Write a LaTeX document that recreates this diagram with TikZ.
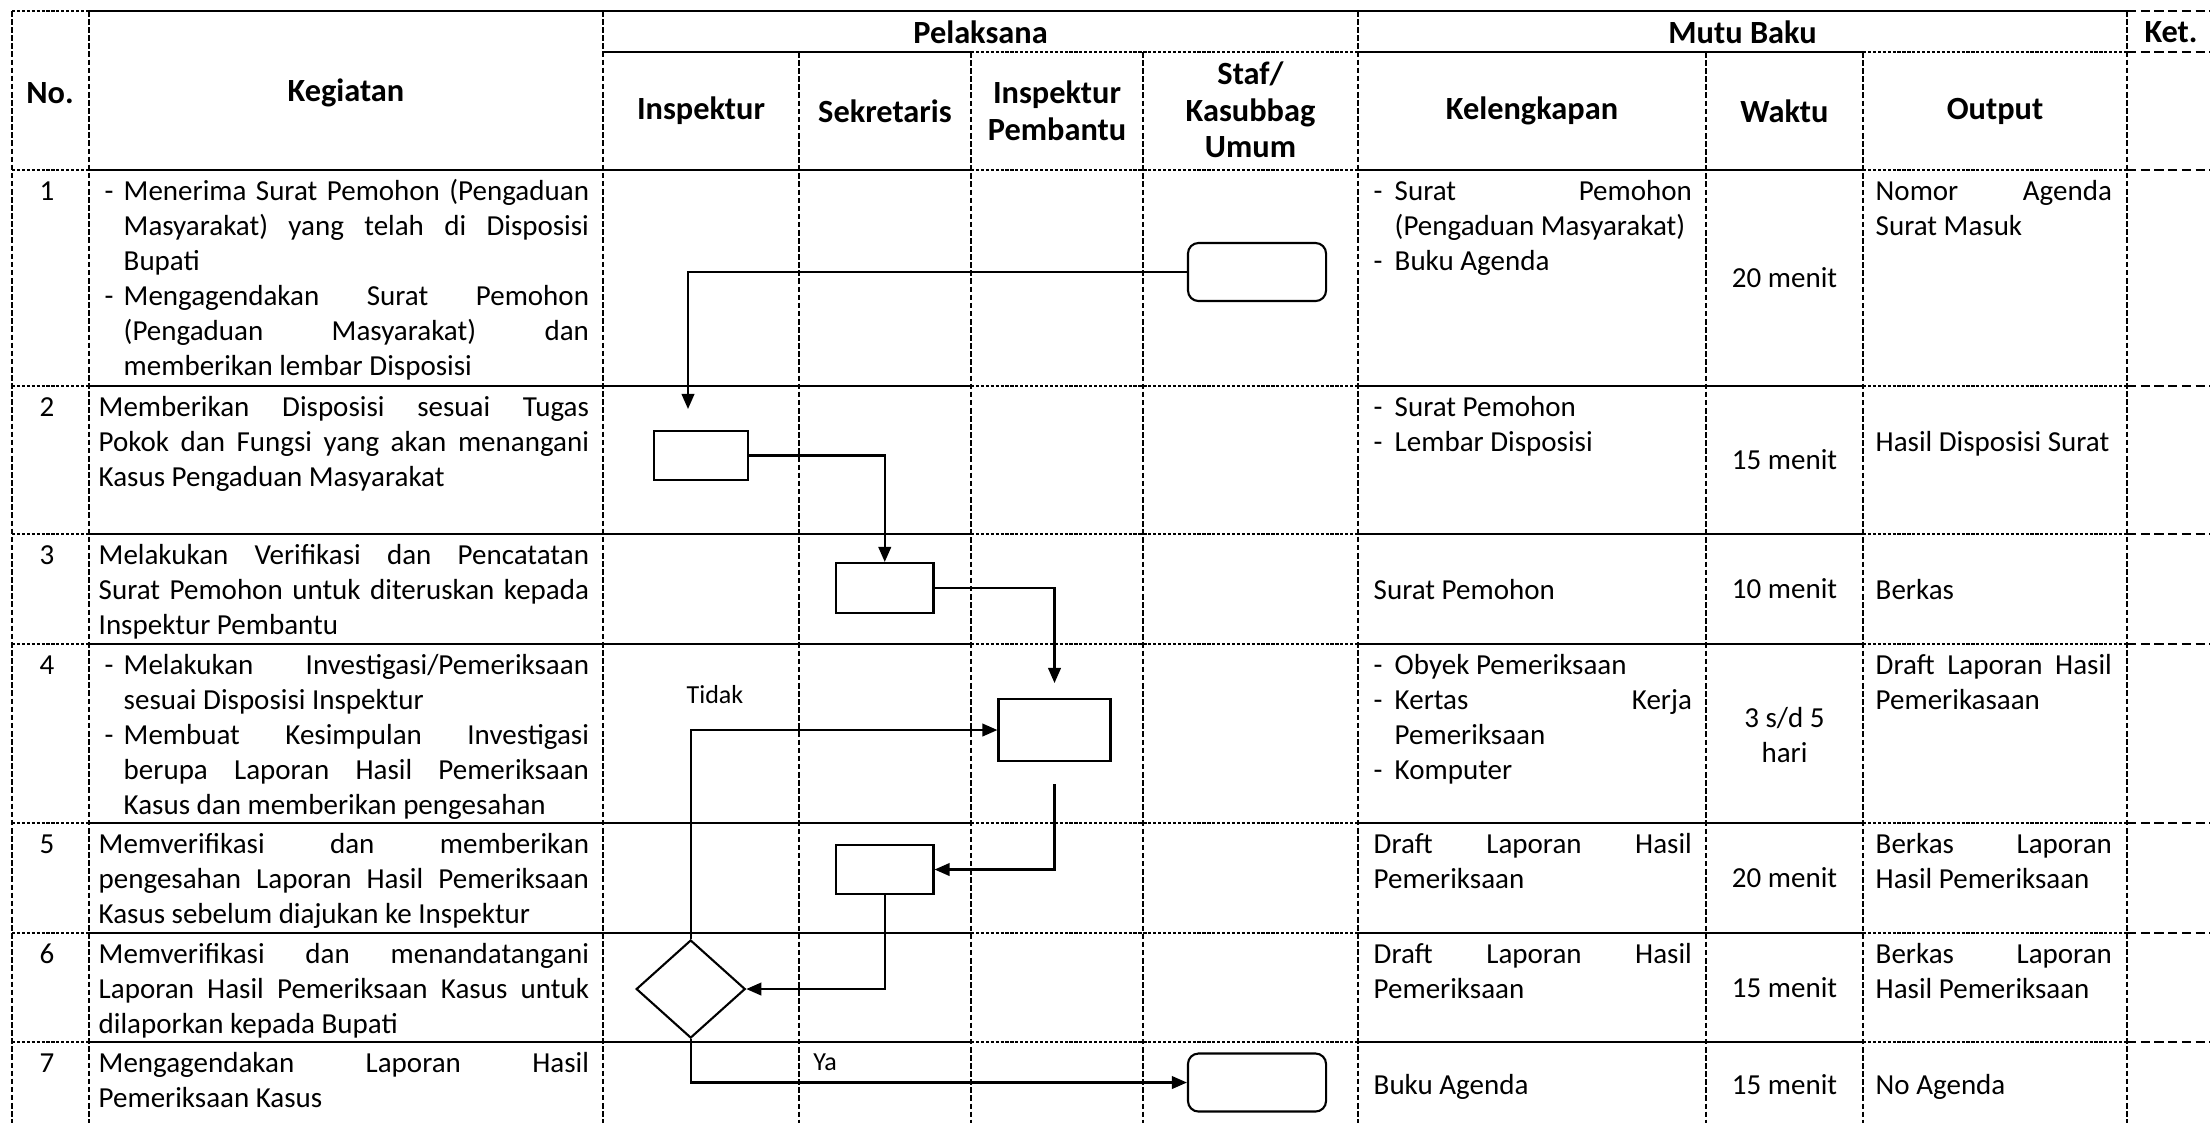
\documentclass[tikz,border=0pt]{standalone}
\usepackage{fontspec}
\setmainfont{Carlito}
\usetikzlibrary{arrows.meta,positioning,shapes.geometric}

\hyphenpenalty=10000
\exhyphenpenalty=10000
\tolerance=10000

% butir berstrip: indentasi strip, indentasi teks (akhiri tiap butir dengan \par)
\newcommand{\butir}[2]{\noindent\hangindent=#2\hangafter=1\hspace*{#1}\makebox[\dimexpr#2-#1\relax][l]{-}\ignorespaces}
\newcommand{\bkeg}{\butir{0.06cm}{0.25cm}}
\newcommand{\bkel}{\butir{0cm}{0.21cm}}

\begin{document}
\begin{tikzpicture}[
    x=0.01cm, y=-0.01cm,
    tebal/.style={line width=0.75pt},
    titik/.style={line width=0.55pt, dash pattern=on 0.9pt off 0.5pt},
    putus/.style={line width=0.6pt, dash pattern=on 2.6pt off 1.3pt},
    tegak/.style={line width=0.4pt, dash pattern=on 1.6pt off 0.7pt},
    judul/.style={font=\fontsize{9.2}{10.4}\selectfont\bfseries, align=center, inner sep=0pt},
    isi/.style={font=\fontsize{8.25}{9.96}\selectfont, inner sep=0pt},
    kegiatan/.style={isi, anchor=base west, text width=4.9cm, align=justify},
    lengkap/.style={isi, anchor=base west, text width=3.18cm, align=justify},
    hasil/.style={isi, anchor=base west, text width=2.36cm, align=justify},
    waktu/.style={isi, align=center},
    proses/.style={rectangle, draw, fill=white, line width=0.6pt, inner sep=0pt},
    terminal/.style={proses, rounded corners=3pt, minimum width=1.38cm, minimum height=0.58cm},
    putusan/.style={diamond, draw, fill=white, line width=0.6pt, inner sep=0pt,
        minimum width=1.09cm, minimum height=0.98cm},
    panah/.style={-{Triangle[length=4.3pt,width=3.6pt]}, line width=0.6pt},
    lbl/.style={font=\fontsize{7.4}{9}\selectfont, inner sep=0pt}
]
\useasboundingbox (0,0) rectangle (2210,1123);

% Garis tabel
\foreach \x in {12,89,603,1358,2127} \draw[tegak] (\x,11) -- (\x,1123);
\foreach \x in {799,971,1143,1706,1863} \draw[tegak] (\x,52) -- (\x,1123);

\draw[titik] (12,11) -- (89,11);
\draw[tebal] (89,11) -- (2127,11);
\draw[putus] (2127,11) -- (2210,11);

\draw[tebal] (603,52) -- (971,52);
\draw[titik] (971,52) -- (1358,52);
\draw[tebal] (1358,52) -- (1863,52);
\draw[titik] (1863,52) -- (2127,52);
\draw[putus] (2127,52) -- (2210,52);

\foreach \y in {170,386,534,644,823,933,1042} {
    \draw[titik] (12,\y) -- (89,\y);
    \draw[tebal] (89,\y) -- (971,\y);
    \draw[titik] (971,\y) -- (1358,\y);
    \draw[tebal] (1358,\y) -- (1863,\y);
    \draw[titik] (1863,\y) -- (2127,\y);
    \draw[putus] (2127,\y) -- (2210,\y);
}

% Kepala tabel
\node[judul] (hNo) at (50,93) {No.};
\node[judul] (hKeg) at (346,93) {Kegiatan};
\node[judul] (hPel) at (980.5,32) {Pelaksana};
\node[judul] (hMutu) at (1742.5,32) {Mutu Baku};
\node[judul] (hKet) at (2171,32) {Ket.};
\node[judul] (hIns) at (701,111) {Inspektur};
\node[judul] (hSek) at (885,111) {Sekretaris};
\node[judul] (hIP) at (1057,111) {Inspektur\\Pembantu};
\node[judul] (hStaf) at (1250.5,110) {Staf/\\Kasubbag\\Umum};
\node[judul] (hKel) at (1532,111) {Kelengkapan};
\node[judul] (hWak) at (1784.5,111) {Waktu};
\node[judul] (hOut) at (1995,111) {Output};

% Nomor
\node[isi, anchor=base] (n1) at (47,200) {1};
\node[isi, anchor=base] (n2) at (47,416) {2};
\node[isi, anchor=base] (n3) at (47,564) {3};
\node[isi, anchor=base] (n4) at (47,674) {4};
\node[isi, anchor=base] (n5) at (47,853) {5};
\node[isi, anchor=base] (n6) at (47,963) {6};
\node[isi, anchor=base] (n7) at (47,1072) {7};

% Kegiatan
\node[kegiatan] (k1) at (98,200) {\bkeg Menerima Surat Pemohon (Pengaduan\linebreak Masyarakat) yang telah di Disposisi\linebreak Bupati\par
    \bkeg Mengagendakan Surat Pemohon\linebreak (Pengaduan Masyarakat) dan\linebreak memberikan lembar Disposisi\par};
\node[kegiatan] (k2) at (98,416) {Memberikan Disposisi sesuai Tugas\linebreak Pokok dan Fungsi yang akan menangani\linebreak Kasus Pengaduan Masyarakat};
\node[kegiatan] (k3) at (98,564) {Melakukan Verifikasi dan Pencatatan\linebreak Surat Pemohon untuk diteruskan kepada\linebreak Inspektur Pembantu};
\node[kegiatan] (k4) at (98,674) {\bkeg Melakukan Investigasi/Pemeriksaan\linebreak sesuai Disposisi Inspektur\par
    \bkeg Membuat Kesimpulan Investigasi\linebreak berupa Laporan Hasil Pemeriksaan\linebreak Kasus dan memberikan pengesahan\par};
\node[kegiatan] (k5) at (98,853) {Memverifikasi dan memberikan\linebreak pengesahan Laporan Hasil Pemeriksaan\linebreak Kasus sebelum diajukan ke Inspektur};
\node[kegiatan] (k6) at (98,963) {Memverifikasi dan menandatangani\linebreak Laporan Hasil Pemeriksaan Kasus untuk\linebreak dilaporkan kepada Bupati};
\node[kegiatan] (k7) at (98,1072) {Mengagendakan Laporan Hasil\linebreak Pemeriksaan Kasus};

% Kelengkapan
\node[lengkap] (l1) at (1373,200) {\bkel Surat Pemohon\linebreak (Pengaduan Masyarakat)\par \bkel Buku Agenda\par};
\node[lengkap] (l2) at (1373,416) {\bkel Surat Pemohon\par \bkel Lembar Disposisi\par};
\node[isi, anchor=base west] (l3) at (1373,599) {Surat Pemohon};
\node[lengkap] (l4) at (1373,674) {\bkel Obyek Pemeriksaan\par \bkel Kertas Kerja\linebreak Pemeriksaan\par \bkel Komputer\par};
\node[lengkap] (l5) at (1373,853) {Draft Laporan Hasil\linebreak Pemeriksaan};
\node[lengkap] (l6) at (1373,963) {Draft Laporan Hasil\linebreak Pemeriksaan};
\node[isi, anchor=base west] (l7) at (1373,1094) {Buku Agenda};

% Waktu
\node[waktu] (w1) at (1784.5,278) {20 menit};
\node[waktu] (w2) at (1784.5,460) {15 menit};
\node[waktu] (w3) at (1784.5,589) {10 menit};
\node[waktu] (w4) at (1784.5,735) {3 s/d 5\\hari};
\node[waktu] (w5) at (1784.5,878) {20 menit};
\node[waktu] (w6) at (1784.5,988) {15 menit};
\node[waktu] (w7) at (1784.5,1085) {15 menit};

% Output
\node[hasil] (o1) at (1875,200) {Nomor Agenda\linebreak Surat Masuk};
\node[isi, anchor=base west] (o2) at (1875,451) {Hasil Disposisi Surat};
\node[isi, anchor=base west] (o3) at (1875,599) {Berkas};
\node[hasil] (o4) at (1875,674) {Draft Laporan Hasil\linebreak Pemerikasaan};
\node[hasil] (o5) at (1875,853) {Berkas Laporan\linebreak Hasil Pemeriksaan};
\node[hasil] (o6) at (1875,963) {Berkas Laporan\linebreak Hasil Pemeriksaan};
\node[isi, anchor=base west] (o7) at (1875,1094) {No Agenda};

% Bagan alir
\node[terminal] (mulai) at (1257,272) {};
\node[proses, minimum width=0.94cm, minimum height=0.49cm] (disposisi) at (701,455.5) {};
\node[proses, minimum width=0.975cm, minimum height=0.5cm] (catat) at (884.75,588) {};
\node[proses, minimum width=1.12cm, minimum height=0.62cm] (investigasi) at (1054.5,730) {};
\node[proses, minimum width=0.975cm, minimum height=0.49cm] (verifikasi) at (884.75,869.5) {};
\node[putusan] (keputusan) at (690.7,989) {};
\node[terminal] (selesai) at (1257,1082.5) {};

\coordinate (ujungA) at (688,409);
\coordinate (ujungC) at (1054.5,683);
\coordinate (pangkalB) at (1054.5,784);

% Panah
\draw[panah] (mulai.west) -| (ujungA);
\draw[panah] (disposisi.east) -| (catat.north);
\draw[panah] (catat.east) -| (ujungC);
\draw[panah] (keputusan.north) |- (investigasi.west);
\draw[panah] (pangkalB) |- (verifikasi.east);
\draw[panah] (verifikasi.south) |- (keputusan.east);
\draw[panah] (keputusan.south) |- (selesai.west);

% Label
\node[lbl] (tidak) at (715,695) {Tidak};
\node[lbl] (ya) at (825,1062) {Ya};

\end{tikzpicture}
\end{document}
